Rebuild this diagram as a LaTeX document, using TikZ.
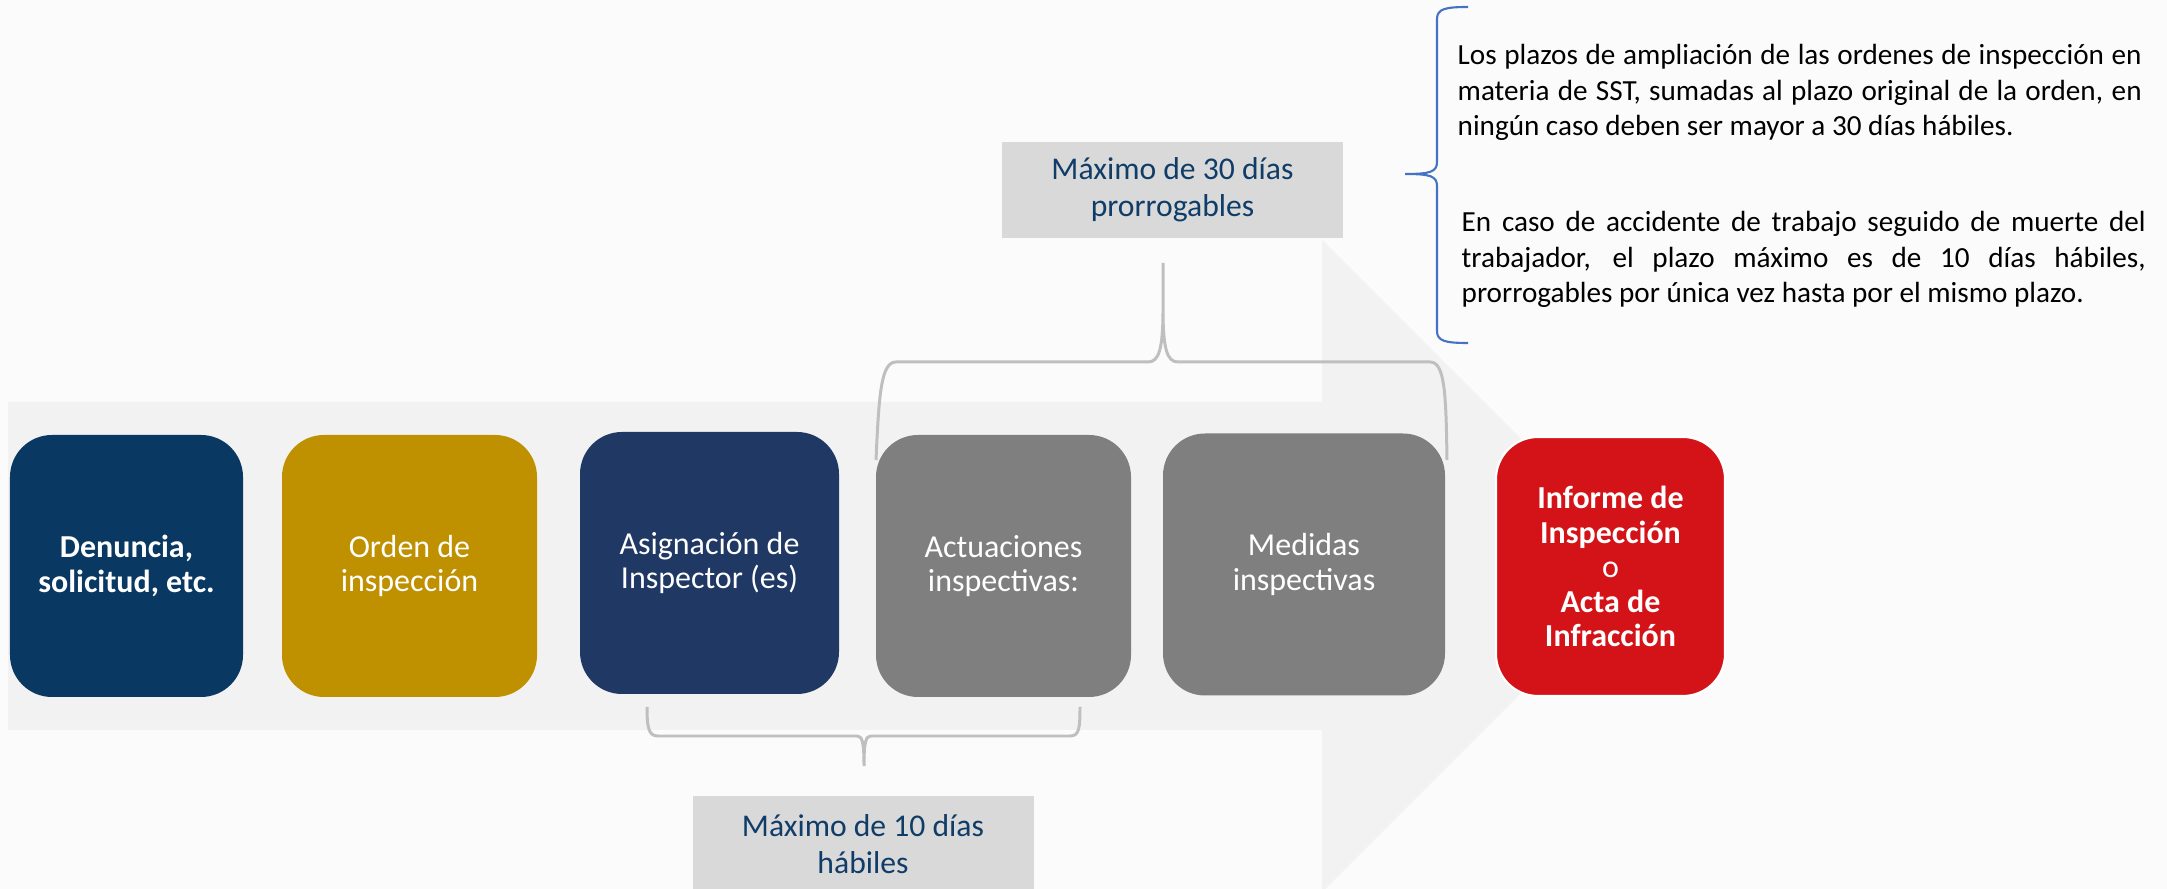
\documentclass[tikz,border=0pt]{standalone}
\usepackage{fontspec}
\setmainfont{Carlito}
\definecolor{navy}{RGB}{9,56,98}
\definecolor{gold}{RGB}{191,144,0}
\definecolor{darkblue}{RGB}{32,56,100}
\definecolor{stonegray}{RGB}{127,127,127}
\definecolor{alertred}{RGB}{212,19,24}
\definecolor{labelgray}{RGB}{217,217,217}
\definecolor{labelblue}{RGB}{16,60,104}
\definecolor{braceblue}{RGB}{68,114,196}
\tikzset{
    stage/.style={rounded corners=0.42cm, minimum height=2.62cm, inner sep=2pt,
        text=white, align=center, font=\fontsize{9.1}{9.8}\selectfont},
    plazo/.style={fill=labelgray, text=labelblue, minimum width=3.41cm,
        minimum height=0.96cm, align=center, font=\fontsize{9}{10.4}\selectfont},
    llave/.style={draw=gray!50, line width=0.85pt},
    nota/.style={text width=6.84cm, align=justify, inner sep=0pt, anchor=base west,
        font=\fontsize{8.3}{10.1}\selectfont},
}
\begin{document}
\begin{tikzpicture}
    \useasboundingbox (0,0) rectangle (21.67,8.89);
    \clip (0,0) rectangle (21.67,8.89);
    \fill[gray!3] (0,0) rectangle (21.67,8.89);
    \fill[gray!10] (0.08,4.87) -- (13.22,4.87) -- (13.22,6.49) -- (16.48,3.23)
        -- (13.22,-0.03) -- (13.22,1.59) -- (0.08,1.59) -- cycle;

    \node[stage, fill=navy, minimum width=2.33cm, font=\fontsize{9.1}{9.8}\selectfont\bfseries]
        (denuncia) at (1.265,3.23) {Denuncia,\\solicitud, etc.};
    \node[stage, fill=gold, minimum width=2.55cm] (orden) at (4.095,3.23) {Orden de\\inspección};
    \node[stage, fill=darkblue, minimum width=2.59cm] (asignacion) at (7.095,3.26) {Asignación de\\Inspector (es)};
    \node[stage, fill=stonegray, minimum width=2.55cm] (actuaciones) at (10.035,3.23) {Actuaciones\\inspectivas:};
    \node[stage, fill=stonegray, minimum width=2.82cm] (medidas) at (13.04,3.245) {Medidas\\inspectivas};
    \node[stage, fill=alertred, draw=white, line width=0.6pt, minimum width=2.29cm, minimum height=2.59cm,
        font=\fontsize{9.1}{9.8}\selectfont\bfseries]
        (informe) at (16.105,3.225) {Informe de\\Inspección\\{\mdseries o}\\Acta de\\Infracción};

    \draw[llave] (8.76,4.29) .. controls (8.79,4.95) and (8.81,5.27) .. (8.96,5.27) -- (11.48,5.27)
        .. controls (11.59,5.27) and (11.63,5.40) .. (11.63,5.80) -- (11.63,6.26)
        -- (11.63,5.80) .. controls (11.63,5.40) and (11.67,5.27) .. (11.78,5.27) -- (14.30,5.27)
        .. controls (14.45,5.27) and (14.46,4.95) .. (14.47,4.29);
    \draw[llave] (6.47,1.82) .. controls (6.47,1.60) and (6.49,1.53) .. (6.58,1.53) -- (8.57,1.53)
        .. controls (8.62,1.53) and (8.64,1.48) .. (8.64,1.23)
        .. controls (8.64,1.48) and (8.66,1.53) .. (8.71,1.53) -- (10.70,1.53)
        .. controls (10.79,1.53) and (10.80,1.60) .. (10.80,1.82);

    \node[plazo] (plazoA) at (11.725,6.99) {Máximo de 30 días\\prorrogables};
    \node[plazo] (plazoB) at (8.63,0.45) {Máximo de 10 días\\hábiles};

    \draw[draw=braceblue, line width=0.6pt] (14.68,8.82) .. controls (14.45,8.82) and (14.37,8.80) .. (14.37,8.70)
        -- (14.37,7.27) .. controls (14.37,7.17) and (14.30,7.15) .. (14.05,7.15)
        .. controls (14.30,7.15) and (14.37,7.13) .. (14.37,7.03)
        -- (14.37,5.58) .. controls (14.37,5.48) and (14.45,5.46) .. (14.68,5.46);

    \node[nota] (notaA) at (14.57,8.24) {Los plazos de ampliación de las ordenes de inspección en\linebreak
        materia de SST, sumadas al plazo original de la orden, en\linebreak
        ningún caso deben ser mayor a 30 días hábiles.};
    \node[nota] (notaB) at (14.61,6.57) {En caso de accidente de trabajo seguido de muerte del\linebreak
        trabajador, el plazo máximo es de 10 días hábiles,\linebreak
        prorrogables por única vez hasta por el mismo plazo.};
\end{tikzpicture}
\end{document}
